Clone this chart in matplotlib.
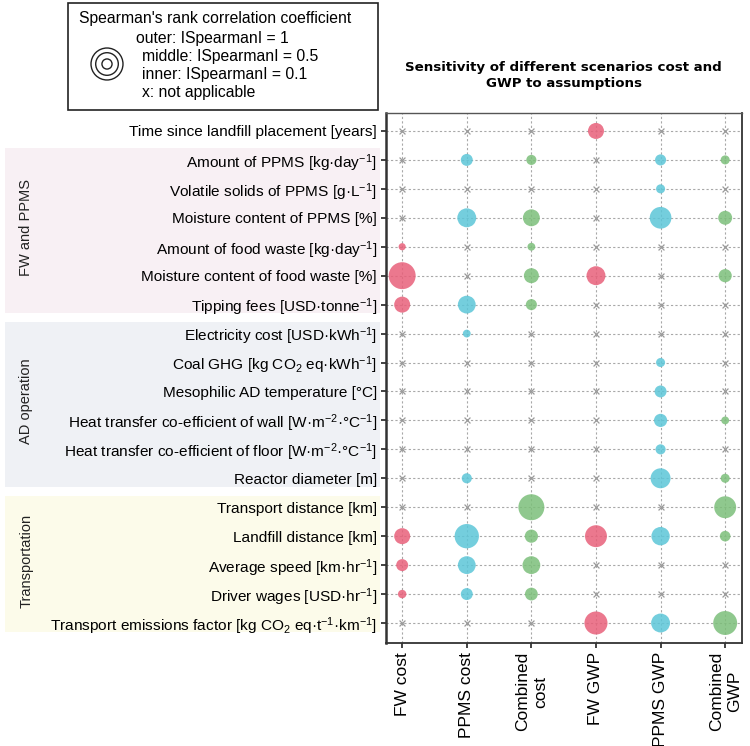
"""Bubble grid: Spearman sensitivity of scenario cost and GWP to assumptions."""

import matplotlib.pyplot as plt
import numpy as np
from matplotlib.patches import Rectangle
from matplotlib.transforms import blended_transform_factory

plt.rcParams["font.family"] = ["Liberation Sans", "DejaVu Sans"]
plt.rcParams["mathtext.fontset"] = "custom"
plt.rcParams["mathtext.rm"] = "Liberation Sans"
plt.rcParams["mathtext.it"] = "Liberation Sans:italic"
plt.rcParams["mathtext.bf"] = "Liberation Sans:bold"

nan = np.nan

parameters = [
    "Time since landfill placement [years]",
    "Amount of PPMS [kg·day$^{-1}$]",
    "Volatile solids of PPMS [g·L$^{-1}$]",
    "Moisture content of PPMS [%]",
    "Amount of food waste [kg·day$^{-1}$]",
    "Moisture content of food waste [%]",
    "Tipping fees [USD·tonne$^{-1}$]",
    "Electricity cost [USD·kWh$^{-1}$]",
    "Coal GHG [kg CO$_2$ eq·kWh$^{-1}$]",
    "Mesophilic AD temperature [°C]",
    "Heat transfer co-efficient of wall [W·m$^{-2}$·°C$^{-1}$]",
    "Heat transfer co-efficient of floor [W·m$^{-2}$·°C$^{-1}$]",
    "Reactor diameter [m]",
    "Transport distance [km]",
    "Landfill distance [km]",
    "Average speed [km·hr$^{-1}$]",
    "Driver wages [USD·hr$^{-1}$]",
    "Transport emissions factor [kg CO$_2$ eq·t$^{-1}$·km$^{-1}$]",
]

scenarios = ["FW cost", "PPMS cost", "Combined\ncost", "FW GWP", "PPMS GWP", "Combined\nGWP"]

# |Spearman| per parameter, nan = not applicable
fw_cost = [nan, nan, nan, nan, 0.05, 0.71, 0.25, nan, nan, nan, nan, nan, nan, nan, 0.25, 0.14, 0.07, nan]
ppms_cost = [nan, 0.14, nan, 0.35, nan, nan, 0.31, 0.06, nan, nan, nan, nan, 0.10, nan, 0.58, 0.31, 0.14, nan]
combined_cost = [nan, 0.10, nan, 0.28, 0.06, 0.22, 0.12, nan, nan, nan, nan, nan, nan, 0.66, 0.17, 0.31, 0.16, nan]
fw_gwp = [0.25, nan, nan, nan, nan, 0.35, nan, nan, nan, nan, nan, nan, nan, nan, 0.47, nan, nan, 0.52]
ppms_gwp = [nan, 0.12, 0.08, 0.46, nan, nan, nan, nan, 0.08, 0.14, 0.17, 0.10, 0.39, nan, 0.33, nan, nan, 0.35]
combined_gwp = [nan, 0.08, nan, 0.19, nan, 0.17, nan, nan, nan, nan, 0.06, nan, 0.08, 0.47, 0.11, nan, nan, 0.56]

groups = [("FW and PPMS", 1, 6), ("AD operation", 7, 12), ("Transportation", 13, 17)]
group_colors = ["#f8f0f4", "#eff1f5", "#fcfbea"]

legend_values = [1.0, 0.5, 0.1]

RED, CYAN, GREEN = "#e8607a", "#5cc6d8", "#7cbf7a"
col_colors = [RED, CYAN, GREEN, RED, CYAN, GREEN]
S_MAX = 530  # marker area (pt^2) for |rho| = 1

columns = [fw_cost, ppms_cost, combined_cost, fw_gwp, ppms_gwp, combined_gwp]

fig = plt.figure(figsize=(7.5, 7.46), dpi=100)
ax = fig.add_axes([0.5147, 0.1381, 0.4746, 0.7104])

n_rows = len(parameters)
rows = np.arange(n_rows)

for ci, vals in enumerate(columns):
    vals = np.asarray(vals, dtype=float)
    ok = ~np.isnan(vals)
    ax.scatter(np.full(ok.sum(), ci), rows[ok], s=vals[ok] * S_MAX,
               color=col_colors[ci], alpha=0.85, linewidths=0, zorder=3)
    ax.scatter(np.full((~ok).sum(), ci), rows[~ok], s=18, marker="x",
               color="#9a9a9a", linewidths=0.9, zorder=3)

ax.set_xticks(range(len(scenarios)))
ax.set_xticklabels(scenarios, rotation=90, fontsize=12.5, ha="center", va="top",
                   multialignment="center", linespacing=1.25)
ax.set_yticks(rows)
ax.set_yticklabels(parameters, fontsize=11.1)
ax.set_xlim(-0.25, 5.26)
ax.set_ylim(17.69, -0.62)
ax.tick_params(length=3.5, width=1.2, color="#222222", pad=3)
ax.grid(True, linestyle=(0, (2, 2)), color="#a8a8a8", linewidth=0.8, zorder=0)
ax.set_axisbelow(True)
for side, sp in ax.spines.items():
    sp.set_color("#333333")
    sp.set_linewidth(1.3)
ax.spines["left"].set_linewidth(1.8)
ax.spines["top"].set_linewidth(1.0)
ax.spines["top"].set_color("#555555")

# shaded groups behind the row labels
trans = blended_transform_factory(fig.transFigure, ax.transData)
for (name, r0, r1), c in zip(groups, group_colors):
    y0 = r0 - 0.5 + 0.1
    y1 = r1 + 0.5 - 0.2
    fig.patches.append(Rectangle((0.007, y0), 0.5, y1 - y0, transform=trans,
                                 facecolor=c, edgecolor="none", zorder=-1))
    fig.text(0.035, (r0 + r1) / 2 - 0.15, name, transform=trans, rotation=90,
             ha="center", va="center", fontsize=10.5, color="#222222")

fig.text(0.7515, 1 - 75 / 746, "Sensitivity of different scenarios cost and\nGWP to assumptions",
         ha="center", va="center", fontsize=9.6, fontweight="bold", linespacing=1.3,
         family="DejaVu Sans")

# size legend box
lg = fig.add_axes([0, 0, 1, 1], zorder=-2)
lg.set_xlim(0, 750)
lg.set_ylim(746, 0)
lg.axis("off")
lg.add_patch(Rectangle((68, 3), 310, 107, facecolor="white", edgecolor="#222222", linewidth=1.2))
lg.scatter([107] * len(legend_values), [64] * len(legend_values),
           s=np.array(legend_values) * S_MAX, facecolors="none", edgecolors="#222222", linewidths=1.0)
lg.text(79, 18, "Spearman's rank correlation coefficient", fontsize=11.3, va="center")
legend_lines = ["outer: ISpearmanI = 1", "middle: ISpearmanI = 0.5",
                "inner: ISpearmanI = 0.1", "x: not applicable"]
for i, (txt, x0) in enumerate(zip(legend_lines, [136, 142, 142, 142])):
    lg.text(x0, 38 + i * 18, txt, fontsize=11.3, va="center")

fig.savefig("out.png", dpi=100)
plt.close(fig)
